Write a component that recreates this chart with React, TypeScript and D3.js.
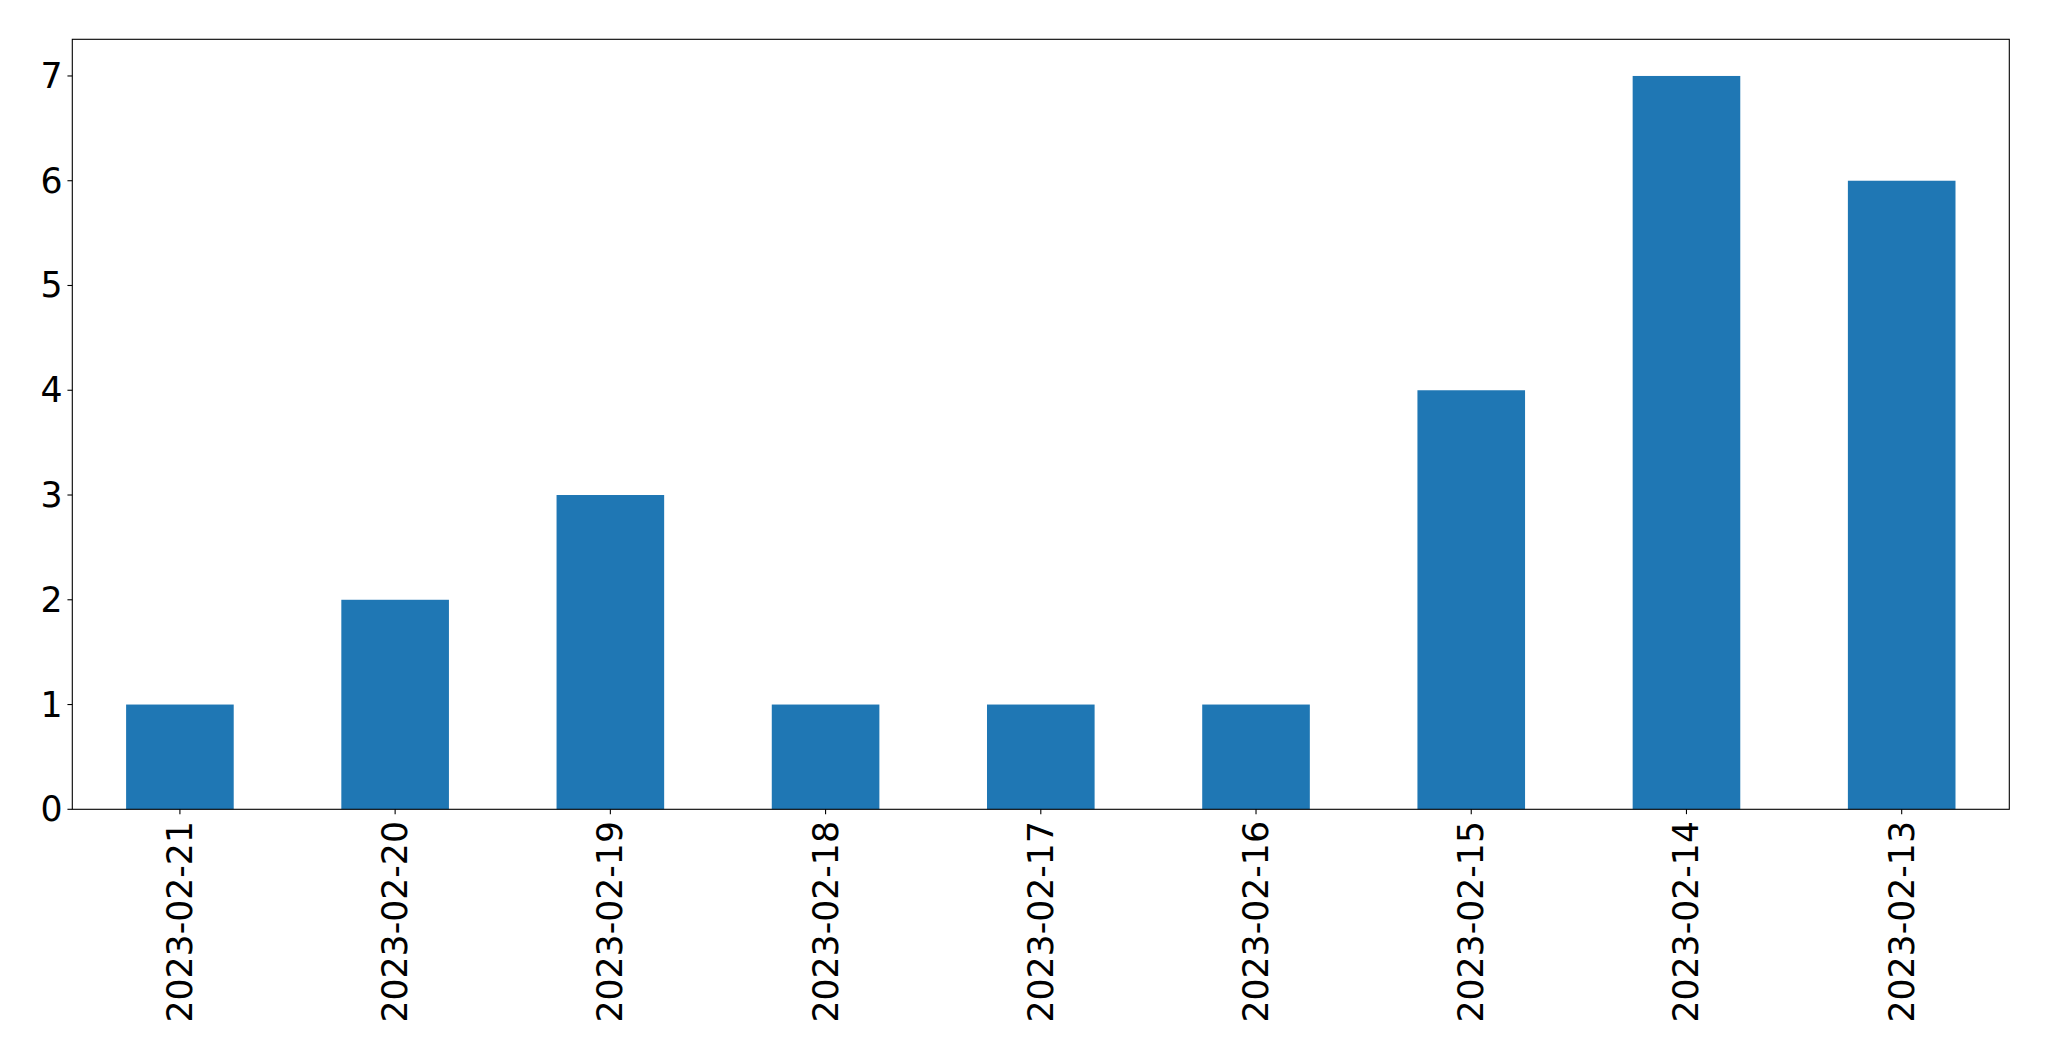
import React from "react";
import * as d3 from "d3";

const categories = ["2023-02-21", "2023-02-20", "2023-02-19", "2023-02-18", "2023-02-17", "2023-02-16", "2023-02-15", "2023-02-14", "2023-02-13"];
const values = [1, 2, 3, 1, 1, 1, 4, 7, 6];
const yTicks = [0, 1, 2, 3, 4, 5, 6, 7];

export default function App() {
  const W = 2049, H = 1061;
  const left = 72.3, right = 2009.3, top = 39.3, bottom = 809.3;
  const x = d3.scaleLinear().domain([-0.5, categories.length - 0.5]).range([left, right]);
  const yMax = d3.max(values)! * 1.05;
  const y = d3.scaleLinear().domain([0, yMax]).range([bottom, top]);
  const tickLen = 4.86, pad = 4.86;
  const fs = 34.7;
  const font = "'DejaVu Sans', sans-serif";
  return (
    <svg width={W} height={H} style={{ position: "absolute", left: 0, top: 0, background: "#fff" }}>
      <rect x={0} y={0} width={W} height={H} fill="#fff" />
      {values.map((v, i) => (
        <rect key={i} x={x(i - 0.25)} y={y(v)} width={x(i + 0.25) - x(i - 0.25)} height={y(0) - y(v)} fill="#1f77b4" />
      ))}
      <rect x={left} y={top} width={right - left} height={bottom - top} fill="none" stroke="#000" strokeWidth={1.1} />
      {yTicks.map((t) => (
        <g key={t}>
          <line x1={left - tickLen} x2={left} y1={y(t)} y2={y(t)} stroke="#000" strokeWidth={1.1} />
          <text x={left - tickLen - pad} y={y(t)} textAnchor="end" dominantBaseline="central" fontFamily={font} fontSize={fs} fill="#000">{t}</text>
        </g>
      ))}
      {categories.map((c, i) => (
        <g key={c}>
          <line x1={x(i)} x2={x(i)} y1={bottom} y2={bottom + tickLen} stroke="#000" strokeWidth={1.1} />
          <text transform={`translate(${x(i)},${bottom + tickLen + pad + 2}) rotate(-90)`} textAnchor="end" dominantBaseline="central" fontFamily={font} fontSize={fs} fill="#000">{c}</text>
        </g>
      ))}
    </svg>
  );
}
